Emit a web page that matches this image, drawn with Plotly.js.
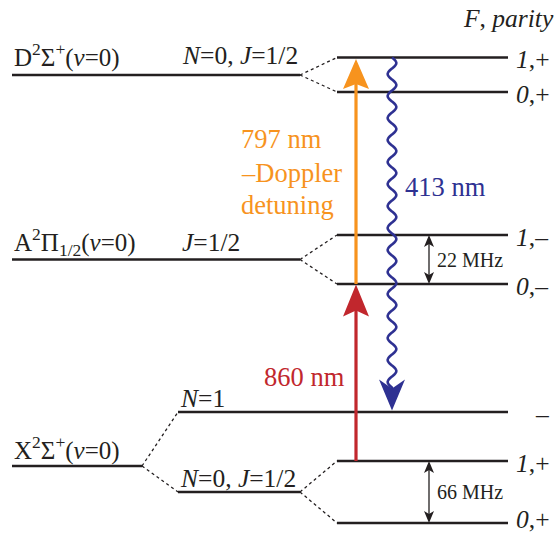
<!DOCTYPE html>
<html>
<head>
<meta charset="utf-8">
<script src="https://cdn.plot.ly/plotly-3.0.1.min.js"></script>
<style>html,body{margin:0;padding:0;background:#fff;}#chart{width:555px;height:535px;}</style>
</head>
<body>
<div id="chart"></div>
<script>
// ---- Data (diagram energy positions, in diagram units) ----
const stateLabels = ['D<sup>2</sup>Σ<sup>+</sup>(<i>v</i>=0)', 'A<sup>2</sup>Π<sub>1/2</sub>(<i>v</i>=0)', 'X<sup>2</sup>Σ<sup>+</sup>(<i>v</i>=0)'];
const stateEnergy = [75, 259.5, 466];

const rotLabels = ['<i>N</i>=0, <i>J</i>=1/2', '<i>J</i>=1/2', '<i>N</i>=1', '<i>N</i>=0, <i>J</i>=1/2'];
const rotEnergy = [75, 259.5, 412, 492];
const rotParent = [0, 1, 2, 2];

const hfLabels = ['<i>1</i>,+', '<i>0</i>,+', '<i>1</i>,–', '<i>0</i>,–', '–', '<i>1</i>,+', '<i>0</i>,+'];
const hfEnergy = [57.5, 92, 235, 284, 412, 461, 523];
const hfParent = [0, 0, 1, 1, 2, 3, 3];

const splitLabels = ['22 MHz', '66 MHz'];
const splitUpper = [235, 461];
const splitLower = [284, 523];

const transLabels = ['860 nm', '797 nm<br>–Doppler<br>detuning', '413 nm'];
const transFrom = [461, 284, 57.5];
const transTo = [284, 57.5, 412];
const transColors = ['#c1272d', '#f7931e', '#2e3192'];

// ---- Layout constants ----
const INK = '#231f20';
const FONT = 'Liberation Serif';
const xState = [12, 300], xStateX = [12, 142];
const xRot = [178, 300], xN1 = [178, 508];
const xHf = [337, 508];
const xArrow = 356, xWave = 392, xSplit = 429;

const traces = [];
const shapes = [];
const annotations = [];

function seg(x, y, color, width, dash) {
  traces.push({type: 'scatter', mode: 'lines', x: x, y: y, hoverinfo: 'skip',
    line: {color: color, width: width, dash: dash || 'solid', shape: 'spline', smoothing: 0.6}, showlegend: false});
}
function ann(text, x, y, opts) {
  annotations.push(Object.assign({text: text, x: x, y: y, xref: 'x', yref: 'y', showarrow: false,
    xanchor: 'left', yanchor: 'middle', font: {family: FONT, size: 25, color: INK}}, opts || {}));
}

// State lines
stateEnergy.forEach((e, i) => {
  const xs = i === 2 ? xStateX : xState;
  seg(xs, [e, e], INK, 2.6);
});
// Rotational lines (D and A coincide with state lines)
rotEnergy.forEach((e, i) => {
  if (i >= 2) seg(i === 2 ? xN1 : xRot, [e, e], INK, 2.6);
});
// X state -> rotational dotted connectors
[2, 3].forEach(i => {
  seg([xStateX[1], xRot[0]], [stateEnergy[rotParent[i]], rotEnergy[i]], INK, 1.3, 'dot');
});
// Hyperfine lines and connectors
hfEnergy.forEach((e, i) => {
  const p = hfParent[i];
  if (i === 4) return; // N=1 line already extends through
  seg(xHf, [e, e], INK, 2.6);
  seg([xRot[1], xHf[0]], [rotEnergy[p], e], INK, 1.3, 'dot');
});

// Labels
const stateLabelY = [55, 242, 448];
stateLabels.forEach((t, i) => ann(t, 12, stateLabelY[i]));
const rotLabelY = [55, 242, 398, 478];
rotLabels.forEach((t, i) => ann(t, i >= 2 ? 178 : 180, rotLabelY[i], {font: {family: FONT, size: 25.5, color: INK}}));
hfLabels.forEach((t, i) => ann(t, i === 4 ? 533 : 514, i === 6 ? hfEnergy[i] - 4 : hfEnergy[i] + 2,
  {font: {family: FONT, size: 25.5, color: INK}}));
ann('<i>F</i>, <i>parity</i>', 461, 18, {font: {family: FONT, size: 25.5, color: INK}});

// Splitting double arrows
splitLabels.forEach((t, i) => {
  const a = splitUpper[i], b = splitLower[i];
  seg([xSplit, xSplit], [a + 8, b - 8], INK, 1.3);
  shapes.push({type: 'path', xref: 'x', yref: 'y', fillcolor: INK, line: {width: 0},
    path: `M ${xSplit},${a} L ${xSplit + 5},${a + 12} L ${xSplit},${a + 9} L ${xSplit - 5},${a + 12} Z`});
  shapes.push({type: 'path', xref: 'x', yref: 'y', fillcolor: INK, line: {width: 0},
    path: `M ${xSplit},${b} L ${xSplit + 5},${b - 12} L ${xSplit},${b - 9} L ${xSplit - 5},${b - 12} Z`});
  ann(t, 435, (a + b) / 2, {font: {family: FONT, size: 20, color: INK}});
});

// Arrowhead helper
function head(x, tip, dir, color, hw, len, notch) {
  // dir = -1 pointing up (toward smaller y), +1 pointing down
  const b = tip - dir * len, n = tip - dir * (len - notch);
  shapes.push({type: 'path', xref: 'x', yref: 'y', fillcolor: color, line: {width: 0},
    path: `M ${x},${tip} L ${x + hw},${b} L ${x},${n} L ${x - hw},${b} Z`});
}

// 860 nm (up)
seg([xArrow, xArrow], [transFrom[0], transTo[0] + 20], transColors[0], 3.2);
head(xArrow, transTo[0] + 0.5, -1, transColors[0], 13, 32, 6);
// 797 nm (up)
seg([xArrow, xArrow], [transFrom[1], transTo[1] + 20], transColors[1], 3.2);
head(xArrow, transTo[1] + 1.5, -1, transColors[1], 13, 30, 5);
// 413 nm wavy (down)
{
  const wx = [], wy = [];
  const y0 = transFrom[2], y1 = transTo[2] - 24;
  for (let y = y0; y <= y1; y += 1) {
    wx.push(xWave + 4.3 * Math.sin(2 * Math.PI * (y - y0) / 22));
    wy.push(y);
  }
  wx.push(xWave); wy.push(y1 + 6);
  seg(wx, wy, transColors[2], 2.6);
  head(xWave, transTo[2] - 1.5, 1, transColors[2], 13, 31, 9);
}

// Transition labels
const COLSIZE = 26.5;
ann(transLabels[0], 347, 377, {xanchor: 'right', font: {family: FONT, size: COLSIZE, color: transColors[0]}});
const dopplerLines = transLabels[1].split('<br>');
const dopplerY = [139, 173, 205];
dopplerLines.forEach((t, i) => ann(t, 239, dopplerY[i], {font: {family: FONT, size: COLSIZE, color: transColors[1]}}));
ann(transLabels[2], 403, 187, {font: {family: FONT, size: COLSIZE, color: transColors[2]}});

const layout = {
  width: 555, height: 535,
  margin: {l: 0, r: 0, t: 0, b: 0},
  paper_bgcolor: '#ffffff', plot_bgcolor: '#ffffff',
  font: {family: FONT},
  xaxis: {range: [0, 555], visible: false, fixedrange: true},
  yaxis: {range: [535, 0], visible: false, fixedrange: true},
  showlegend: false,
  shapes: shapes,
  annotations: annotations
};
Plotly.newPlot('chart', traces, layout, {displayModeBar: false, staticPlot: true});
</script>
</body>
</html>
